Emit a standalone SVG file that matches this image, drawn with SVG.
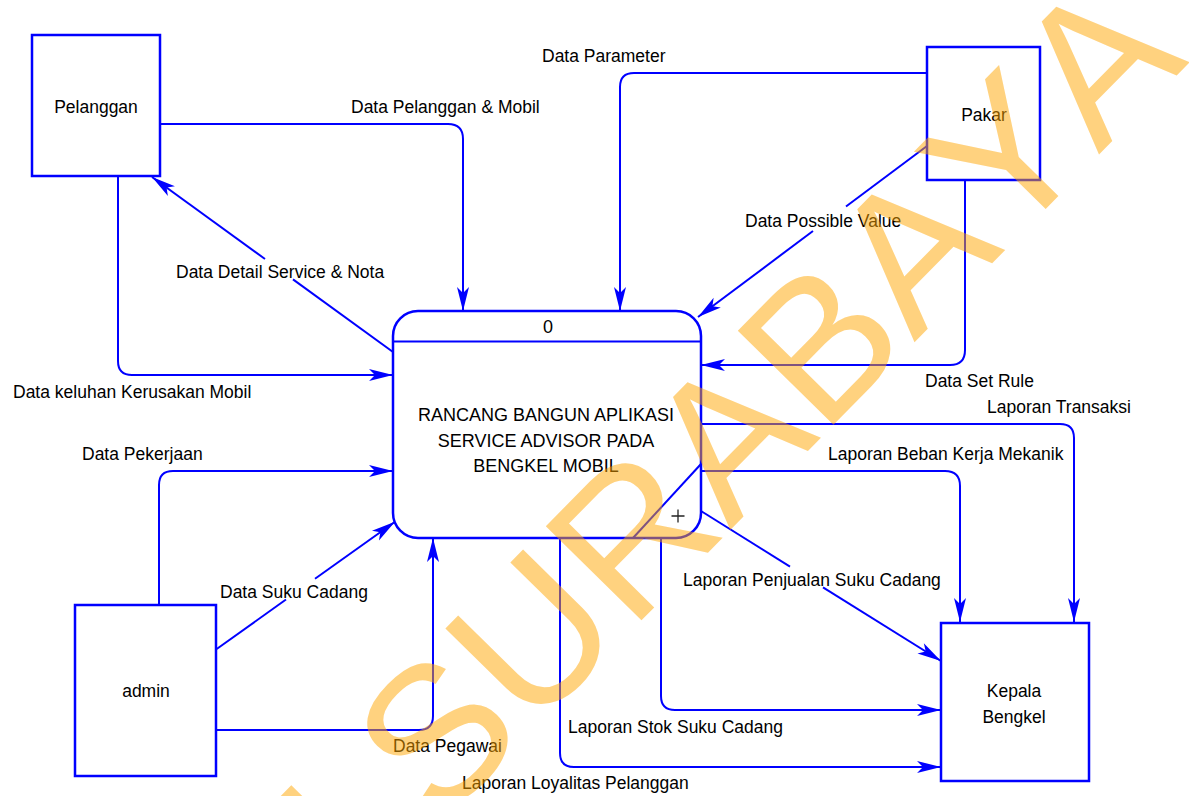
<svg xmlns="http://www.w3.org/2000/svg" width="1189" height="796" viewBox="0 0 1189 796">
  <defs>
    <style>
      .box { fill: #ffffff; stroke: #0000ff; stroke-width: 2.5; }
      .flow { fill: none; stroke: #0000ff; stroke-width: 2; }
      .arrow { marker-end: url(#head); }
      .lbl { font-family: "Liberation Sans", Arial, sans-serif; font-size: 17.5px; fill: #000000; }
      .name { font-family: "Liberation Sans", Arial, sans-serif; font-size: 17.5px; fill: #000000; text-anchor: middle; }
      .proc { font-family: "Liberation Sans", Arial, sans-serif; font-size: 18px; fill: #000000; text-anchor: middle; }
      .mark { fill: #ffa500; fill-opacity: 0.5; font-family: "Liberation Sans", Arial, sans-serif; font-size: 195px; text-anchor: end; font-kerning: none; letter-spacing: 1.5px; }
    </style>
    <marker id="head" viewBox="-25 -7 26 14" refX="0" refY="0" markerWidth="26" markerHeight="14" markerUnits="userSpaceOnUse" orient="auto">
      <path d="M0,0 L-24,-6 L-18,0 L-24,6 Z" fill="#0000ff"/>
    </marker>
  </defs>

  <rect width="1189" height="796" fill="#ffffff"/>

  <!-- data flows -->
  <g id="connectors">
    <path class="flow arrow" d="M160,124 H448 Q463,124 463,139 V311"/>
    <path class="flow arrow" d="M927,73 H634 Q620,73 620,87 V311"/>
    <path class="flow" d="M927,146 L846,206.5"/>
    <path class="flow arrow" d="M813,231 L698,317"/>
    <path class="flow arrow" d="M965,180 V350 Q965,365 950,365 H701"/>
    <path class="flow" d="M393,352 L293,279.4"/>
    <path class="flow arrow" d="M265,259 L152,177"/>
    <path class="flow arrow" d="M118,176 V361 Q118,375 132,375 H393"/>
    <path class="flow arrow" d="M159,605 V485 Q159,471 173,471 H393"/>
    <path class="flow" d="M216.7,649 L286,599.5"/>
    <path class="flow arrow" d="M315,578.8 L395,521.7"/>
    <path class="flow arrow" d="M216,730 H419 Q433,730 433,716 V538"/>
    <path class="flow arrow" d="M701,424 H1060 Q1074,424 1074,438 V622"/>
    <path class="flow arrow" d="M701,471 H945 Q960,471 960,486 V622"/>
    <path class="flow" d="M701,511 L790,566.6"/>
    <path class="flow arrow" d="M823,587.3 L941,661"/>
    <path class="flow arrow" d="M661,538 V696 Q661,710 675,710 H941"/>
    <path class="flow arrow" d="M560,538 V753 Q560,767 574,767 H941"/>

    <text class="lbl" x="351" y="113">Data Pelanggan &amp; Mobil</text>
    <text class="lbl" x="542" y="62">Data Parameter</text>
    <text class="lbl" x="745" y="227">Data Possible Value</text>
    <text class="lbl" x="925" y="387">Data Set Rule</text>
    <text class="lbl" x="176" y="278">Data Detail Service &amp; Nota</text>
    <text class="lbl" x="13" y="398">Data keluhan Kerusakan Mobil</text>
    <text class="lbl" x="82" y="460">Data Pekerjaan</text>
    <text class="lbl" x="220" y="598">Data Suku Cadang</text>
    <text class="lbl" x="393" y="752">Data Pegawai</text>
    <text class="lbl" x="987" y="413">Laporan Transaksi</text>
    <text class="lbl" x="828" y="460">Laporan Beban Kerja Mekanik</text>
    <text class="lbl" x="683" y="586">Laporan Penjualan Suku Cadang</text>
    <text class="lbl" x="568" y="733">Laporan Stok Suku Cadang</text>
    <text class="lbl" x="462" y="789">Laporan Loyalitas Pelanggan</text>
  </g>

  <!-- external entities -->
  <g id="pelanggan">
    <rect class="box" x="32" y="35" width="128" height="141"/>
    <text class="name" x="96" y="113">Pelanggan</text>
  </g>
  <g id="pakar">
    <rect class="box" x="927" y="47" width="113" height="133"/>
    <text class="name" x="984" y="121">Pakar</text>
  </g>
  <g id="admin">
    <rect class="box" x="75" y="605" width="141" height="171"/>
    <text class="name" x="146" y="697">admin</text>
  </g>
  <g id="kepala-bengkel">
    <rect class="box" x="941" y="623" width="148" height="158"/>
    <text class="name" x="1014" y="697">Kepala</text>
    <text class="name" x="1014" y="723">Bengkel</text>
  </g>

  <!-- process 0 -->
  <g id="process-0">
    <rect class="box" x="393" y="311" width="308" height="227" rx="25" ry="25"/>
    <path class="flow" d="M393,341.5 H701"/>
    <path class="flow" d="M633,538 L701,464"/>
    <path d="M678,509.5 V522.5 M671.5,516 H684.5" stroke="#222222" stroke-width="1.3" fill="none"/>
    <text class="proc" x="548" y="333">0</text>
    <text class="proc" x="546" y="421">RANCANG BANGUN APLIKASI</text>
    <text class="proc" x="546" y="447">SERVICE ADVISOR PADA</text>
    <text class="proc" x="546" y="472">BENGKEL MOBIL</text>
  </g>

  <!-- watermark over the sheet -->
  <g id="watermark">
    <text class="mark" transform="translate(1191,61) rotate(-45.5)">M SURABAYA</text>
  </g>
</svg>
